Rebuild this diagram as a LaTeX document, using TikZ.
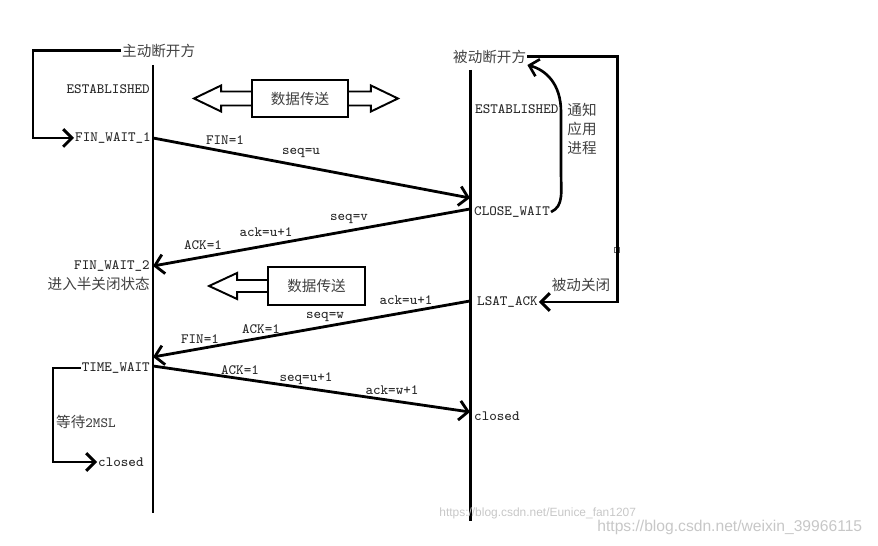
\documentclass[tikz,border=0pt]{standalone}
\usepackage{fontspec}
\newfontfamily\cjk{Noto Sans CJK SC}
\newfontfamily\wmfont{Liberation Sans}
\usetikzlibrary{arrows.meta}
\newcommand{\asciifont}{\ttfamily\fontsize{8.1}{10}\selectfont}

\begin{document}
\begin{tikzpicture}[
  x=0.02cm, y=-0.02cm,
  font=\asciifont,
  state/.style={inner sep=0.5pt, text=black!85},
  zh/.style={inner sep=0.5pt, text=black!75, font=\cjk\fontsize{8.3}{10.8}\selectfont},
  lbl/.style={inner sep=0pt, text=black!85},
  databox/.style={rectangle, draw, line width=1.1pt, fill=white, minimum width=1.92cm, minimum height=0.74cm, inner sep=0pt, text=black!75, font=\cjk\fontsize{8.3}{10.8}\selectfont},
  lifeline/.style={line width=1.7pt},
  msg/.style={line width=1.6pt, -{Straight Barb[length=5pt,width=11pt]}},
  bar/.style={line width=1.7pt},
  hollow/.style={line width=1.1pt, line join=miter},
  wm/.style={inner sep=0pt, text=black!22, font=\wmfont}
]
\useasboundingbox (0,0) rectangle (878,546);

% lifelines
\coordinate (atop) at (153,65);
\coordinate (abot) at (153,513);
\coordinate (btop) at (470,70);
\coordinate (bbot) at (470,521);
\draw [lifeline] (atop) -- (abot);
\draw [lifeline] (btop) -- (bbot);

% active side states
\node (active) [zh, anchor=west] at (121,51) {主动断开方};
\node (est1) [state, anchor=east] at (151,89) {ESTABLISHED};
\node (fw1) [state, anchor=west] at (74,138) {FIN\_WAIT\_1};
\node (fw2) [state, anchor=east] at (151,266) {FIN\_WAIT\_2};
\node (half) [zh, anchor=east] at (151,284) {进入半关闭状态};
\node (tw) [state, anchor=east] at (151,368) {TIME\_WAIT};
\node (msl) [zh, anchor=west] at (55,422) {等待{\asciifont 2MSL}};
\node (closedA) [state, anchor=west] at (97,462) {closed};

% passive side states
\node (passive) [zh, anchor=west] at (452,57) {被动断开方};
\node (est2) [state, anchor=west] at (474,109) {ESTABLISHED};
\node (notify) [zh, align=center] at (582,129) {通知\\应用\\进程};
\node (cw) [state, anchor=west] at (473,212) {CLOSE\_WAIT};
\node (pclose) [zh] at (581,285) {被动关闭};
\node (lastack) [state, anchor=west] at (476,302) {LSAT\_ACK};
\node (closedB) [state, anchor=west] at (473,416) {closed};
\node (handle) [draw=black!60, fill=white, inner sep=0pt, minimum size=0.09cm, line width=0.4pt] at (617,250) {};

% data transfer boxes
\node (d1) [databox] at (300,98.5) {数据传送};
\node (d2) [databox, minimum width=1.94cm, minimum height=0.76cm] at (316.5,286) {数据传送};
\draw [hollow] (d1.west) ++(0,-7) -- ++(-30,0) -- ++(0,-6) -- ++(-27,13) -- ++(27,13) -- ++(0,-6) -- ++(30,0);
\draw [hollow] (d1.east) ++(0,-7) -- ++(22,0) -- ++(0,-6) -- ++(27,13) -- ++(-27,13) -- ++(0,-6) -- ++(-22,0);
\draw [hollow] (d2.west) ++(0,-6) -- ++(-30,0) -- ++(0,-7) -- ++(-28,13) -- ++(28,13) -- ++(0,-7) -- ++(30,0);

% state brackets
\draw [bar, -{Straight Barb[length=5pt,width=10pt]}] (active.west) -- ++(-88,0) |- (fw1.west);
\draw [bar, -{Straight Barb[length=5pt,width=10pt]}] (passive.east) -- (617,57) |- (lastack.east);
\draw [bar, -{Straight Barb[length=5pt,width=10pt]}] (tw.west) -- (53,368) |- (closedA.west);
\draw [line width=1.5pt, -{Straight Barb[length=5pt,width=10pt]}] (cw.east) .. controls (564,206) and (561,192) .. (561,172) -- (561,112) .. controls (561,84) and (546,70) .. (passive.south east);

% messages
\coordinate (a1) at (153,138);
\coordinate (b1) at (470,198);
\coordinate (b2) at (470,209);
\coordinate (a2) at (153,266);
\coordinate (b3) at (470,301);
\coordinate (a3) at (153,357);
\coordinate (a4) at (153,366);
\coordinate (b4) at (470,412);
\draw [msg] (a1) -- (b1);
\draw [msg] (b2) -- (a2);
\draw [msg] (b3) -- (a3);
\draw [msg] (a4) -- (b4);

\node (m1fin) [lbl] at (225,140) {FIN=1};
\node (m1seq) [lbl] at (301,153) {seq=u};
\node (m2seq) [lbl] at (349,219) {seq=v};
\node (m2ack) [lbl] at (266,232) {ack=u+1};
\node (m2ACK) [lbl] at (203,245) {ACK=1};
\node (m3ack) [lbl] at (406,300) {ack=u+1};
\node (m3seq) [lbl] at (325,317) {seq=w};
\node (m3ACK) [lbl] at (261,329) {ACK=1};
\node (m3fin) [lbl] at (200,339) {FIN=1};
\node (m4ACK) [lbl] at (240,370) {ACK=1};
\node (m4seq) [lbl] at (306,379) {seq=u+1};
\node (m4ack) [lbl] at (392,390) {ack=w+1};

% watermarks
\node (wm1) [wm, anchor=west, font=\wmfont\fontsize{6.8}{8}\selectfont] at (439,513) {https://blog.csdn.net/Eunice\_fan1207};
\node (wm2) [wm, anchor=west, font=\wmfont\fontsize{8.9}{10}\selectfont] at (597,527) {https://blog.csdn.net/weixin\_39966115};

\end{tikzpicture}
\end{document}
